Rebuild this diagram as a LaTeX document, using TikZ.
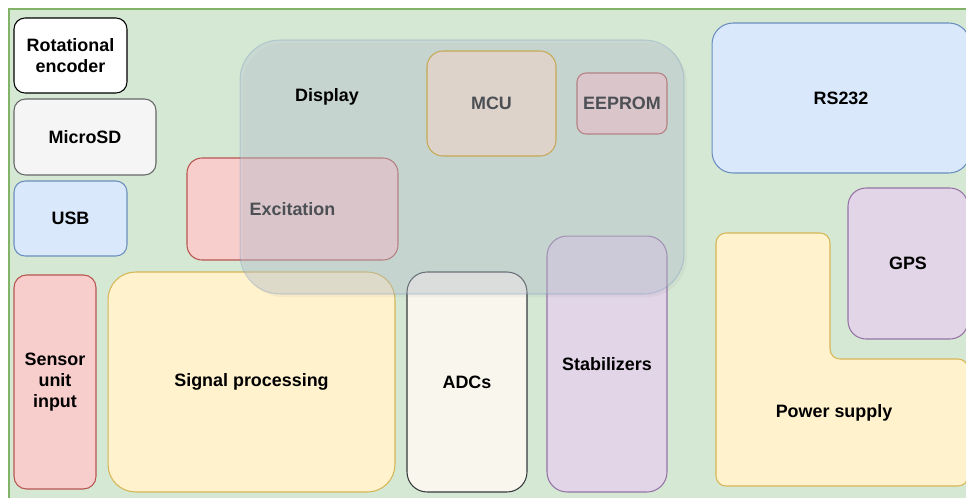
\documentclass[tikz,border=0pt]{standalone}
\usepackage{fontspec}
\setmainfont{Liberation Sans}
\definecolor{bggreen}{HTML}{D5E8D4}
\definecolor{bgline}{HTML}{82B366}
\definecolor{sdfill}{HTML}{F5F5F5}
\definecolor{sdline}{HTML}{666666}
\definecolor{bluefill}{HTML}{DAE8FC}
\definecolor{blueline}{HTML}{6C8EBF}
\definecolor{redfill}{HTML}{F8CECC}
\definecolor{redline}{HTML}{B85450}
\definecolor{yelfill}{HTML}{FFF2CC}
\definecolor{yelline}{HTML}{D6B656}
\definecolor{orfill}{HTML}{FFE6CC}
\definecolor{orline}{HTML}{D79B00}
\definecolor{adcfill}{HTML}{F9F7ED}
\definecolor{adcline}{HTML}{36393D}
\definecolor{purfill}{HTML}{E1D5E7}
\definecolor{purline}{HTML}{9673A6}
\definecolor{dispfill}{HTML}{B8C3D1}
\begin{document}
\begin{tikzpicture}[x=0.02cm, y=-0.02cm,
  txt/.style={font=\fontsize{10.2}{12}\selectfont\bfseries, align=center, inner sep=0pt},
  blk/.style={txt, rectangle, draw, line width=0.6pt}]
\useasboundingbox (0,0) rectangle (966,497);
%背景%
\filldraw[fill=bggreen, draw=bgline, line width=0.6pt] (9,9) rectangle (975,505);
%左の列%
\node[blk, fill=white, draw=black, minimum width=2.26cm, minimum height=1.5cm, rounded corners=0.22cm] (enc) at (70.5,55.5) {Rotational\\encoder};
\node[blk, fill=sdfill, draw=sdline, minimum width=2.84cm, minimum height=1.52cm, rounded corners=0.23cm] (sd) at (85,137) {MicroSD};
\node[blk, fill=bluefill, draw=blueline, minimum width=2.26cm, minimum height=1.5cm, rounded corners=0.22cm] (usb) at (70.5,218.5) {USB};
\node[blk, fill=redfill, draw=redline, minimum width=1.64cm, minimum height=4.28cm, rounded corners=0.25cm] (sens) at (55,382) {Sensor\\unit\\input};
%下の列%
\node[blk, fill=yelfill, draw=yelline, minimum width=5.74cm, minimum height=4.4cm, rounded corners=0.55cm] (sig) at (251.5,382) {Signal processing};
\node[blk, fill=adcfill, draw=adcline, minimum width=2.4cm, minimum height=4.4cm, rounded corners=0.4cm] (adc) at (467,382) {ADCs};
\node[blk, fill=purfill, draw=purline, minimum width=2.4cm, minimum height=5.12cm, rounded corners=0.4cm] (stab) at (607,364) {Stabilizers};
%中央%
\node[blk, fill=redfill, draw=redline, minimum width=4.22cm, minimum height=2.04cm, rounded corners=0.3cm] (exc) at (292.5,209) {Excitation};
\node[blk, fill=orfill, draw=orline, minimum width=2.58cm, minimum height=2.1cm, rounded corners=0.32cm] (mcu) at (491.5,103.5) {MCU};
\node[blk, fill=redfill, draw=redline, minimum width=1.8cm, minimum height=1.22cm, rounded corners=0.18cm] (eep) at (622,103.5) {EEPROM};
%ディスプレイ%
\fill[gray, opacity=0.08, rounded corners=0.8cm] (243,43) rectangle (687,297);
\node[blk, fill=dispfill, fill opacity=0.38, draw=blueline, draw opacity=0.3, minimum width=8.88cm, minimum height=5.08cm, rounded corners=0.8cm] (disp) at (462,167) {};
\node[txt] (disptxt) at (327,97) {Display};
%右の列%
\node[blk, fill=bluefill, draw=blueline, minimum width=5.16cm, minimum height=3cm, rounded corners=0.42cm] (rs) at (841,98) {RS232};
\node[blk, fill=purfill, draw=purline, minimum width=2.4cm, minimum height=3.02cm, rounded corners=0.36cm] (gps) at (908,263.5) {GPS};
\filldraw[fill=yelfill, draw=yelline, line width=0.6pt, rounded corners=0.2cm] (716,233) -- (830,233) -- (830,359) -- (968,359) -- (968,486) -- (716,486) -- cycle;
\node[txt] (pwr) at (834,413) {Power supply};
\end{tikzpicture}
\end{document}
